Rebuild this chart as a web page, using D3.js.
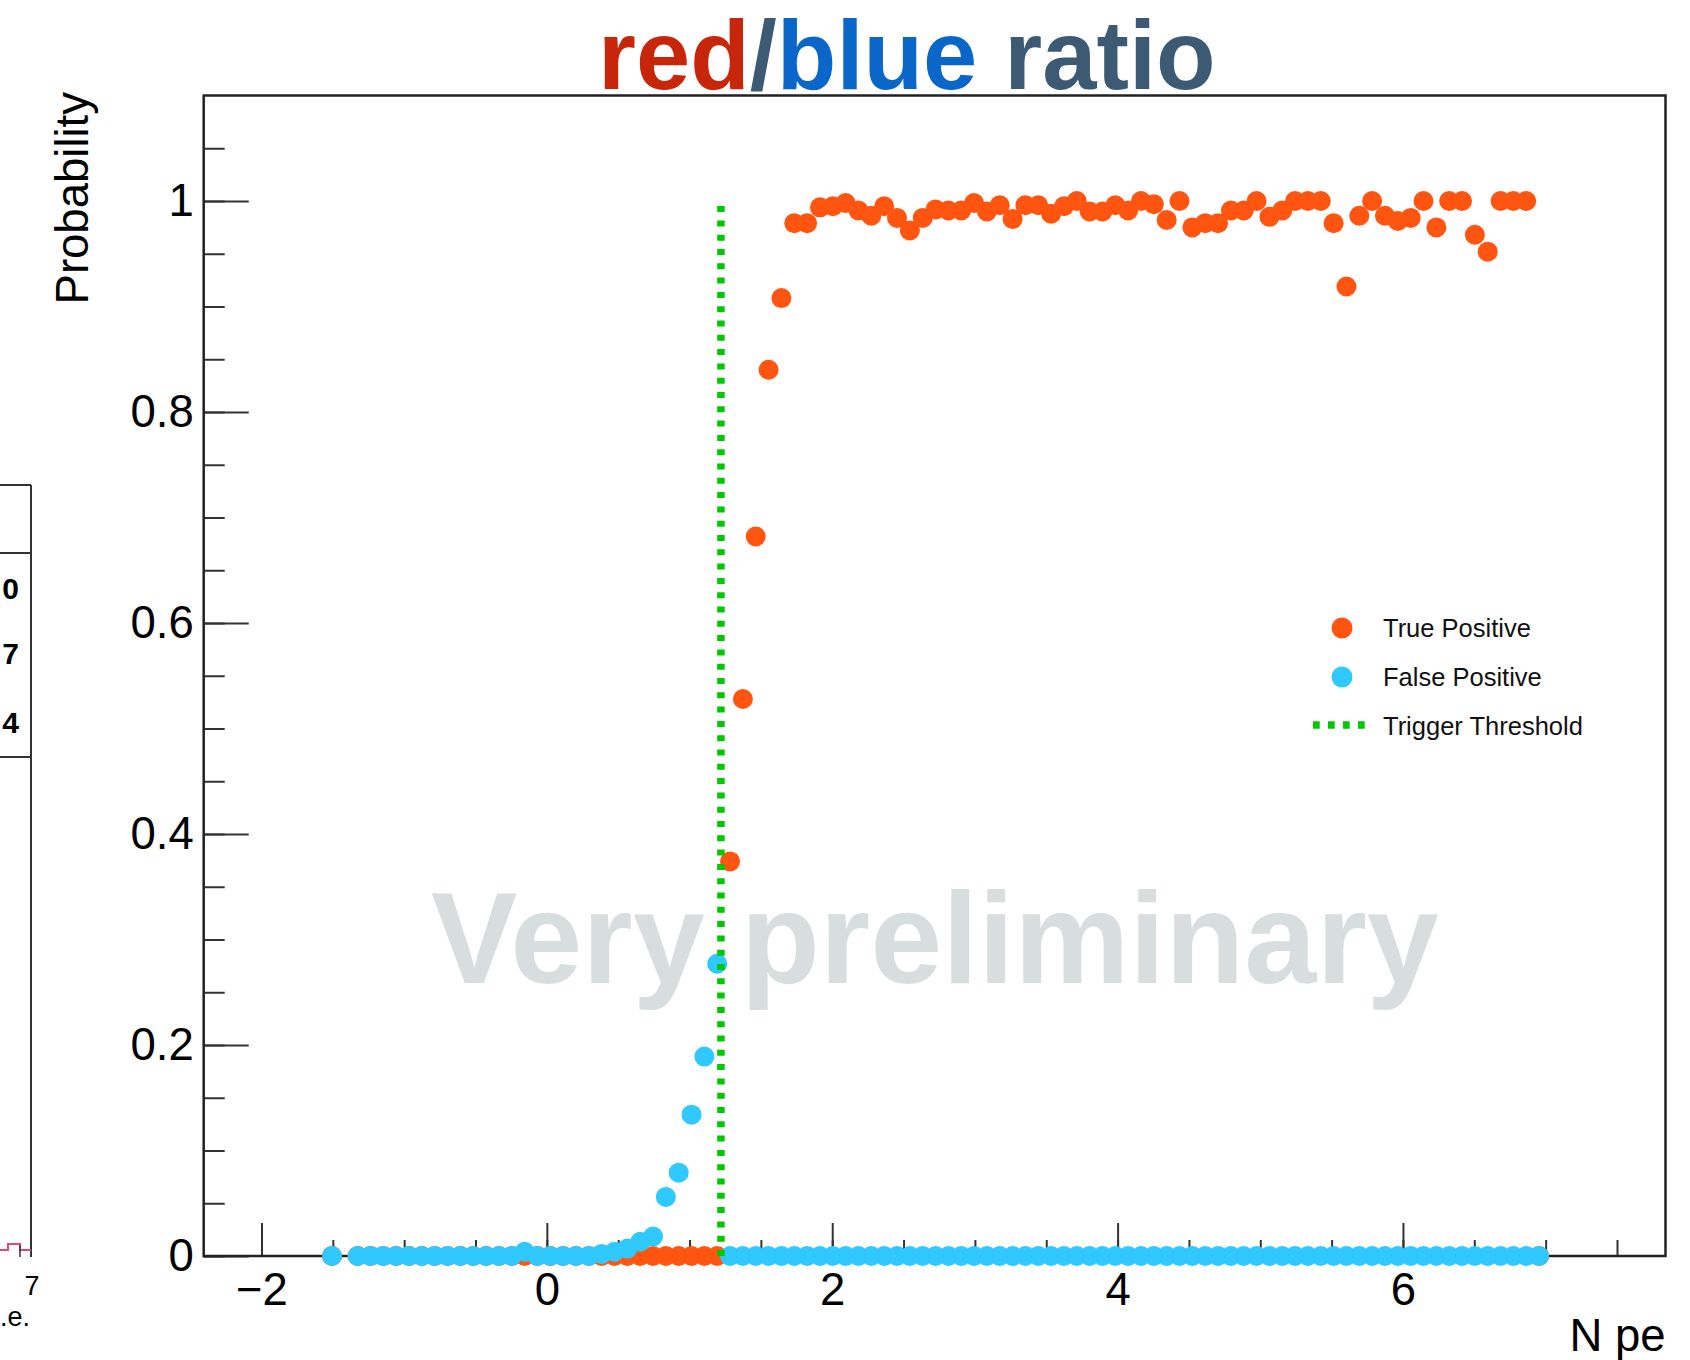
<!DOCTYPE html>
<html><head><meta charset="utf-8">
<script src="https://cdn.jsdelivr.net/npm/d3@7"></script>
<style>html,body{margin:0;padding:0;background:#fff;} svg{display:block;}</style>
</head><body>
<svg id="chart" width="1690" height="1360"></svg>
<script>
// ---------- data ----------
// histogram bins (N pe), regular width; first bin centre and width
const firstBinCenter = -1.506;
const binWidth = 0.09;

// True Positive ratio per bin (null = empty bin)
const truePositive = [
  0, null,
  0,0,0,0,0,0,0,0,0,0,0,0,0,0,0,
  0,0,0,0,0,0,0,0,0,0,0,0,0,0,
  0.374, 0.528, 0.682, 0.840, 0.908,
  0.979, 0.979, 0.994, 0.995, 0.998, 0.991, 0.986, 0.995, 0.984, 0.972,
  0.984, 0.992, 0.991, 0.991, 0.998, 0.990, 0.996, 0.983, 0.996, 0.996,
  0.988, 0.995, 1.000, 0.990, 0.990, 0.996, 0.991, 1.000, 0.997, 0.982,
  1.000, 0.975, 0.979, 0.979, 0.991, 0.991, 1.000, 0.985, 0.991, 1.000,
  1.000, 1.000, 0.979, 0.919, 0.986, 1.000, 0.986, 0.981, 0.984, 1.000,
  0.975, 1.000, 1.000, 0.968, 0.952, 1.000, 1.000, 1.000,
  0
];

// False Positive ratio per bin
const falsePositive = [
  0, null,
  0,0,0,0,0,0,0,0,0,0,0,0,0,
  0.004,
  0,0,0,0,0,
  0.002, 0.004, 0.007, 0.0135, 0.0185, 0.056, 0.079, 0.134, 0.189, 0.277,
  0,0,0,0,0,0,0,0,0,0, 0,0,0,0,0,0,0,0,0,0,
  0,0,0,0,0,0,0,0,0,0, 0,0,0,0,0,0,0,0,0,0,
  0,0,0,0,0,0,0,0,0,0, 0,0,0,0,0,0,0,0,0,0,
  0,0,0,0
];

const triggerThreshold = 1.22;       // N pe
const thresholdSpan = [0, 1];        // probability range of the threshold line

const xDomain = [-2.405, 7.84];
const yDomain = [0, 1.1];
const xMajorTicks = [-2, 0, 2, 4, 6];
const xMinorTicks = [-2, -1.5, -1, -0.5, 0, 0.5, 1, 1.5, 2, 2.5, 3, 3.5, 4, 4.5, 5, 5.5, 6, 6.5, 7, 7.5];
const yMajorTicks = [0, 0.2, 0.4, 0.6, 0.8, 1];
const yMinorTicks = [0, 0.05, 0.1, 0.15, 0.2, 0.25, 0.3, 0.35, 0.4, 0.45, 0.5, 0.55, 0.6, 0.65, 0.7, 0.75, 0.8, 0.85, 0.9, 0.95, 1, 1.05];

const titleParts = [
  {text: "red", color: "#C8260A"},
  {text: "/", color: "#3D5A75"},
  {text: "blue", color: "#0A66C8"},
  {text: " ratio", color: "#3D5A75"}
];
const yTitle = "Probability";
const xTitle = "N pe";
const watermark = "Very preliminary";
const legendLabels = ["True Positive", "False Positive", "Trigger Threshold"];

// left neighbour panel fragments (cut off by the slide edge)
const sideStatsDigits = ["0", "7", "4"];
const sideTickLabel = "7";
const sideAxisTitle = ".e.";

// ---------- styles ----------
const C_TRUE = "#FF5510";
const C_FALSE = "#2FC8FF";
const C_THR = "#00C800";
const FONT = "'Liberation Sans', Arial, Helvetica, sans-serif";
const LABEL_SIZE = 45.5;

const svg = d3.select("#chart");
svg.append("rect").attr("width", 1690).attr("height", 1360).attr("fill", "#fff");

const M = {left: 203.7, right: 1665.5, top: 95.5, bottom: 1256};
const x = d3.scaleLinear().domain(xDomain).range([M.left, M.right]);
const y = d3.scaleLinear().domain(yDomain).range([M.bottom, M.top]);

const bins = truePositive.map((v, i) => firstBinCenter + i * binWidth);

// ---------- title ----------
const title = svg.append("text")
  .attr("x", 598).attr("y", 88.5)
  .attr("font-family", FONT).attr("font-weight", "bold").attr("font-size", 97.5);
titleParts.forEach(p => title.append("tspan").attr("fill", p.color).text(p.text));

// ---------- watermark ----------
svg.append("text")
  .attr("x", 431).attr("y", 983)
  .attr("font-family", FONT).attr("font-weight", "bold").attr("font-size", 129.5)
  .attr("fill", "#D8DDDD")
  .text(watermark);

// ---------- frame & axes ----------
// y minor ticks
svg.append("g").attr("transform", `translate(${M.left},0)`)
  .call(d3.axisLeft(y).tickValues(yMinorTicks).tickSizeInner(-21).tickSizeOuter(0).tickFormat(""))
  .call(g => g.select(".domain").remove())
  .call(g => g.selectAll("line").attr("stroke", "#333").attr("stroke-width", 2));
// y major ticks
svg.append("g").attr("transform", `translate(${M.left},0)`)
  .call(d3.axisLeft(y).tickValues(yMajorTicks).tickSizeInner(-45).tickSizeOuter(0).tickPadding(10)
        .tickFormat(d => d3.format("")(d)))
  .call(g => g.select(".domain").remove())
  .call(g => g.selectAll("line").attr("stroke", "#333").attr("stroke-width", 2))
  .call(g => g.selectAll("text").attr("font-family", FONT).attr("font-size", LABEL_SIZE).attr("fill", "#000"));

// x minor ticks
svg.append("g").attr("transform", `translate(0,${M.bottom})`)
  .call(d3.axisBottom(x).tickValues(xMinorTicks).tickSizeInner(-16).tickSizeOuter(0).tickFormat(""))
  .call(g => g.select(".domain").remove())
  .call(g => g.selectAll("line").attr("stroke", "#333").attr("stroke-width", 2));
// x major ticks
svg.append("g").attr("transform", `translate(0,${M.bottom})`)
  .call(d3.axisBottom(x).tickValues(xMajorTicks).tickSizeInner(-33).tickSizeOuter(0).tickPadding(17)
        .tickFormat(d3.format("d")))
  .call(g => g.select(".domain").remove())
  .call(g => g.selectAll("line").attr("stroke", "#333").attr("stroke-width", 2))
  .call(g => g.selectAll("text").attr("font-family", FONT).attr("font-size", LABEL_SIZE).attr("fill", "#000"));

// frame
svg.append("rect")
  .attr("x", M.left).attr("y", M.top)
  .attr("width", M.right - M.left).attr("height", M.bottom - M.top)
  .attr("fill", "none").attr("stroke", "#222").attr("stroke-width", 2.5);

// axis titles
svg.append("text")
  .attr("transform", "translate(88,92) rotate(-90)")
  .attr("text-anchor", "end")
  .attr("font-family", FONT).attr("font-size", LABEL_SIZE).attr("fill", "#000")
  .text(yTitle);
svg.append("text")
  .attr("x", M.right).attr("y", 1351)
  .attr("text-anchor", "end")
  .attr("font-family", FONT).attr("font-size", LABEL_SIZE).attr("fill", "#000")
  .text(xTitle);

// ---------- data marks ----------
const R = 10;
svg.append("g").selectAll("circle")
  .data(truePositive.map((v, i) => ({x: bins[i], v})).filter(d => d.v !== null))
  .join("circle")
  .attr("cx", d => x(d.x)).attr("cy", d => y(d.v)).attr("r", R).attr("fill", C_TRUE);

svg.append("g").selectAll("circle")
  .data(falsePositive.map((v, i) => ({x: bins[i], v})).filter(d => d.v !== null))
  .join("circle")
  .attr("cx", d => x(d.x)).attr("cy", d => y(d.v)).attr("r", R).attr("fill", C_FALSE);

svg.append("line")
  .attr("x1", x(triggerThreshold)).attr("x2", x(triggerThreshold))
  .attr("y1", y(thresholdSpan[0])).attr("y2", y(thresholdSpan[1]))
  .attr("stroke", C_THR).attr("stroke-width", 7.5).attr("stroke-dasharray", "6,8.3");

// ---------- legend ----------
const lg = svg.append("g").attr("font-family", FONT).attr("font-size", 25.5).attr("fill", "#111");
lg.append("circle").attr("cx", 1342).attr("cy", 628).attr("r", 10.5).attr("fill", C_TRUE);
lg.append("circle").attr("cx", 1342).attr("cy", 677).attr("r", 10.5).attr("fill", C_FALSE);
lg.append("line").attr("x1", 1313).attr("x2", 1365).attr("y1", 725).attr("y2", 725)
  .attr("stroke", C_THR).attr("stroke-width", 7.5).attr("stroke-dasharray", "6.7,8.3");
legendLabels.forEach((t, i) => {
  lg.append("text").attr("x", 1383).attr("y", 637 + i * 49).text(t);
});

// ---------- neighbouring panel fragment ----------
const side = svg.append("g").attr("font-family", FONT);
side.append("line").attr("x1", 31).attr("x2", 31).attr("y1", 485).attr("y2", 1257).attr("stroke", "#333").attr("stroke-width", 2);
[485, 553, 757].forEach(yy => side.append("line").attr("x1", 0).attr("x2", 31).attr("y1", yy).attr("y2", yy).attr("stroke", "#333").attr("stroke-width", 2));
sideStatsDigits.forEach((t, i) => side.append("text").attr("x", 19).attr("y", [599, 664, 733][i]).attr("text-anchor", "end").attr("font-size", 30).attr("font-weight", "bold").text(t));
side.append("path").attr("d", "M0,1250 H8 V1244 H20 V1250 H31").attr("fill", "none").attr("stroke", "#E0457B").attr("stroke-width", 2);
side.append("line").attr("x1", 20).attr("x2", 20).attr("y1", 1257).attr("y2", 1245).attr("stroke", "#333").attr("stroke-width", 1.5);
side.append("text").attr("x", 32).attr("y", 1295).attr("text-anchor", "middle").attr("font-size", 27).text(sideTickLabel);
side.append("text").attr("x", 0).attr("y", 1326).attr("font-size", 27).text(sideAxisTitle);
</script>
</body></html>
